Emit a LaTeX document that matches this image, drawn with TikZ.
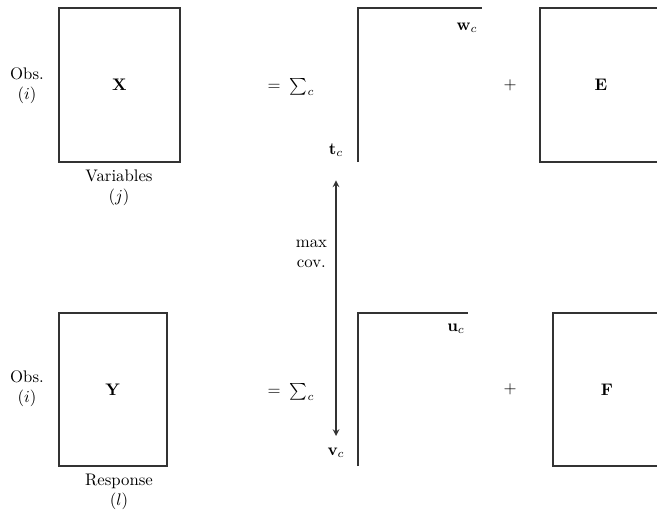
\documentclass[tikz,border=0pt]{standalone}

\begin{document}
\begin{tikzpicture}[
	x=0.021cm, y=-0.021cm,
	block/.style={
		rectangle,
		draw=black!80,
		line width=1pt,
		inner sep=0pt
	},
	sidelab/.style={
		align=center,
		inner sep=1pt,
		text=black
	},
	loadlab/.style={inner sep=2pt},
	frame/.style={line width=1pt,black!80},
	edge/.style={<->,>=stealth,line width=0.8pt,black!80}
]

\useasboundingbox (0,0) rectangle (657,512);
\clip (0,0) rectangle (657,512);

% Bloque X
\node[block,minimum width=2.54cm,minimum height=3.234cm] (X) at (119.5,85) {$\mathbf{X}$};
\node[sidelab] (obsX) at (27,86) {Obs.\\$(i)$};
\node[sidelab] (varX) at (119,188) {Variables\\$(j)$};
\node (eqX) at (291,87) {$=\;\sum_c$};
\node[loadlab] (tc) at (336,150) {$\mathbf{t}_c$};
\node[loadlab] (wc) at (467,28) {$\mathbf{w}_c$};
\node (plusX) at (510,85) {$+$};
\node[block,minimum width=2.562cm,minimum height=3.234cm] (E) at (601,85) {$\mathbf{E}$};
\draw[frame] (358,162) |- (482,8);

% Bloque Y
\node[block,minimum width=2.268cm,minimum height=3.213cm] (Y) at (113,389.5) {$\mathbf{Y}$};
\node[sidelab] (obsY) at (27,389) {Obs.\\$(i)$};
\node[sidelab] (resY) at (119,492) {Response\\$(l)$};
\node (eqY) at (291,392) {$=\;\sum_c$};
\node[loadlab] (vc) at (336,453) {$\mathbf{v}_c$};
\node[loadlab] (uc) at (456,329) {$\mathbf{u}_c$};
\node (plusY) at (510,389) {$+$};
\node[block,minimum width=2.268cm,minimum height=3.213cm] (F) at (607,389.5) {$\mathbf{F}$};
\draw[frame] (358,466) |- (468,313);

% Covarianza
\draw[edge,shorten <=12pt,shorten >=5pt] (tc) -- node[sidelab,pos=0.33,left=4pt]{max\\cov.} (vc);

\end{tikzpicture}
\end{document}
